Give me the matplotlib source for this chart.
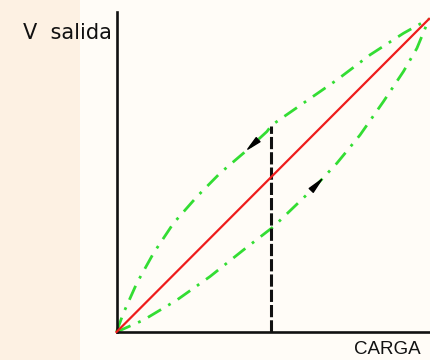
import numpy as np
import matplotlib.pyplot as plt
from matplotlib.patches import Rectangle

# hysteresis curves (carga vs V salida, 0..10)
upper_x = [0, 0.22, 0.65, 1.18, 1.82, 2.57, 3.31, 4.06, 4.81, 4.97, 5.98, 7.05, 8.11, 9.18, 10]
upper_y = [0, 0.60, 1.56, 2.51, 3.47, 4.32, 5.07, 5.71, 6.40, 6.61, 7.31, 8.05, 8.85, 9.54, 10]
lower_x = [0, 0.86, 1.93, 2.99, 4.06, 4.81, 5.02, 6.30, 7.05, 7.79, 8.54, 9.18, 9.61, 10]
lower_y = [0, 0.38, 1.02, 1.77, 2.62, 3.20, 3.36, 4.59, 5.39, 6.29, 7.36, 8.32, 9.06, 10]
ideal_x = [0, 10]
ideal_y = [0, 10]

# vertical marker at a given load and arrow positions
carga_marca = 4.94
flecha_sup = (4.53, 4.20)   # wide end, tip
flecha_inf = (6.23, 6.56)

W, H = 430, 360
fig = plt.figure(figsize=(W / 100, H / 100), dpi=100, facecolor='#fffcf7')
fig.patches.append(Rectangle((0, 0), 80 / W, 1, transform=fig.transFigure,
                             facecolor='#fdf1e3', edgecolor='none', zorder=-10))

ax = fig.add_axes([116.5 / W, 28 / H, (W - 116.5) / W, 320 / H])
ax.set_facecolor('none')
ax.set_xlim(0, 10.03)
ax.set_ylim(0, 10.22)
for s in ['top', 'right']:
    ax.spines[s].set_visible(False)
for s in ['left', 'bottom']:
    ax.spines[s].set_linewidth(1.9)
    ax.spines[s].set_color('#111111')
ax.set_xticks([])
ax.set_yticks([])

green = '#33dd33'
ax.plot(upper_x, upper_y, color=green, lw=2.0, ls=(0, (5.5, 3, 1, 3)), clip_on=False)
ax.plot(lower_x, lower_y, color=green, lw=2.0, ls=(0, (5.5, 3, 1, 3)), clip_on=False)
ax.plot(ideal_x, ideal_y, color='#ee1c1c', lw=1.6, clip_on=False, zorder=3)

y_top = np.interp(carga_marca, upper_x, upper_y)
ax.plot([carga_marca, carga_marca], [0, y_top], color='#111111', lw=2.2,
        ls=(0, (4, 1)))

for (x0, x1), cx, cy in [(flecha_sup, upper_x, upper_y), (flecha_inf, lower_x, lower_y)]:
    ax.annotate('', xy=(x1, np.interp(x1, cx, cy)), xytext=(x0, np.interp(x0, cx, cy)),
                arrowprops=dict(arrowstyle='wedge,tail_width=0.4', color='black',
                                mutation_scale=10, shrinkA=0, shrinkB=0))

fig.text(23 / W, 1 - 33 / H, 'V  salida', fontsize=15, va='center', ha='left',
         family='DejaVu Sans', color='#111111')
fig.text(421 / W, 1 - 349 / H, 'CARGA', fontsize=13.5, va='center', ha='right',
         family='Liberation Sans', color='#111111')

fig.savefig('out.png', dpi=100, facecolor=fig.get_facecolor())
